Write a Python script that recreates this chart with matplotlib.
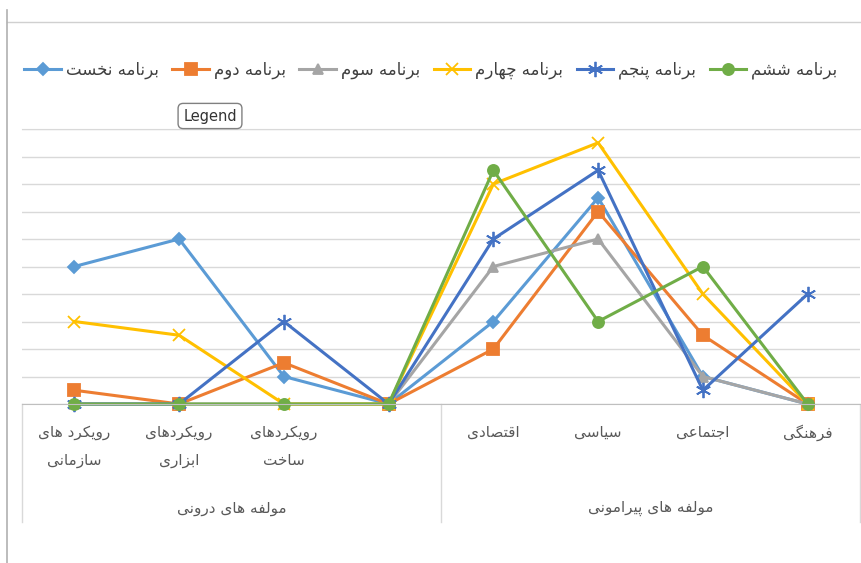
import matplotlib
matplotlib.use("Agg")
import matplotlib.pyplot as plt
from matplotlib.lines import Line2D

# Data (grid units, 0..10)
categories = ["رویکرد های\nسازمانی", "رویکردهای\nابزاری", "رویکردهای\nساخت", "",
              "اقتصادی", "سیاسی", "اجتماعی", "فرهنگی"]
groups = ["مولفه های درونی", "مولفه های پیرامونی"]
series_names = ["برنامه نخست", "برنامه دوم", "برنامه سوم",
                "برنامه چهارم", "برنامه پنجم", "برنامه ششم"]
s1 = [5, 6, 1, 0, 3, 7.5, 1, 0]
s2 = [0.5, 0, 1.5, 0, 2, 7, 2.5, 0]
s3 = [0, 0, 0, 0, 5, 6, 1, 0]
s4 = [3, 2.5, 0, 0, 8, 9.5, 4, 0]
s5 = [0, 0, 3, 0, 6, 8.5, 0.5, 4]
s6 = [0, 0, 0, 0, 8.5, 3, 5, 0]

# simple Persian shaping (matplotlib has no bidi / joining support)
FORMS = {
    'ا': ('\uFE8D', '\uFE8E', None, None),
    'ب': ('\uFE8F', '\uFE90', '\uFE91', '\uFE92'),
    'ت': ('\uFE95', '\uFE96', '\uFE97', '\uFE98'),
    'ج': ('\uFE9D', '\uFE9E', '\uFE9F', '\uFEA0'),
    'خ': ('\uFEA5', '\uFEA6', '\uFEA7', '\uFEA8'),
    'د': ('\uFEA9', '\uFEAA', None, None),
    'ر': ('\uFEAD', '\uFEAE', None, None),
    'ز': ('\uFEAF', '\uFEB0', None, None),
    'س': ('\uFEB1', '\uFEB2', '\uFEB3', '\uFEB4'),
    'ش': ('\uFEB5', '\uFEB6', '\uFEB7', '\uFEB8'),
    'ص': ('\uFEB9', '\uFEBA', '\uFEBB', '\uFEBC'),
    'ع': ('\uFEC9', '\uFECA', '\uFECB', '\uFECC'),
    'ف': ('\uFED1', '\uFED2', '\uFED3', '\uFED4'),
    'ق': ('\uFED5', '\uFED6', '\uFED7', '\uFED8'),
    'ل': ('\uFEDD', '\uFEDE', '\uFEDF', '\uFEE0'),
    'م': ('\uFEE1', '\uFEE2', '\uFEE3', '\uFEE4'),
    'ن': ('\uFEE5', '\uFEE6', '\uFEE7', '\uFEE8'),
    'ه': ('\uFEE9', '\uFEEA', '\uFEEB', '\uFEEC'),
    'و': ('\uFEED', '\uFEEE', None, None),
    'پ': ('\uFB56', '\uFB57', '\uFB58', '\uFB59'),
    'چ': ('\uFB7A', '\uFB7B', '\uFB7C', '\uFB7D'),
    'ک': ('\uFB8E', '\uFB8F', '\uFB90', '\uFB91'),
    'گ': ('\uFB92', '\uFB93', '\uFB94', '\uFB95'),
    'ی': ('\uFBFC', '\uFBFD', '\uFBFE', '\uFBFF'),
}


def shape_line(txt):
    out = []
    for i, ch in enumerate(txt):
        if ch not in FORMS:
            out.append(ch)
            continue
        prev = txt[i - 1] if i > 0 else ''
        nxt = txt[i + 1] if i + 1 < len(txt) else ''
        join_prev = prev in FORMS and FORMS[prev][2] is not None
        join_next = nxt in FORMS and FORMS[ch][2] is not None
        iso, fin, ini, med = FORMS[ch]
        if join_prev and join_next:
            out.append(med)
        elif join_prev:
            out.append(fin)
        elif join_next:
            out.append(ini)
        else:
            out.append(iso)
    return ''.join(out)[::-1]


def fa(txt):
    return '\n'.join(shape_line(l) for l in txt.split('\n'))


plt.rcParams['font.family'] = ['DejaVu Sans']

fig = plt.figure(figsize=(8.62, 5.63), dpi=100)
ax = fig.add_axes([22 / 862, 1 - 404 / 563, 838 / 862, 275 / 563])

x = list(range(len(categories)))
styles = [
    ("#5B9BD5", "D", 6, s1),
    ("#ED7D31", "s", 8, s2),
    ("#A5A5A5", "^", 7, s3),
    ("#FFC000", "x", 9, s4),
    ("#4472C4", (6, 2, 0), 11, s5),
    ("#70AD47", "o", 8, s6),
]
for (color, marker, ms, vals), name in zip(styles, series_names):
    ax.plot(x, vals, color=color, lw=2.2, marker=marker, markersize=ms,
            markeredgewidth=1.3, label=fa(name), clip_on=False)

ax.set_xlim(-0.5, 7.5)
ax.set_ylim(0, 10)
ax.set_yticks(range(0, 11))
ax.set_yticklabels([])
ax.set_xticks([])
ax.tick_params(left=False)
ax.grid(axis='y', color='#D9D9D9', lw=1)
ax.set_axisbelow(True)
for sp in ax.spines.values():
    sp.set_color('#D9D9D9')
ax.spines['left'].set_visible(False)
ax.spines['right'].set_visible(False)
ax.spines['bottom'].set_color('#BFBFBF')

# category labels (two levels)
for xi, lab in zip(x, categories):
    if lab:
        ax.text(xi, -0.75, fa(lab), ha='center', va='top', fontsize=11,
                color='#595959', linespacing=2.1)
ax.text(1.5, -3.8, fa(groups[0]), ha='center', va='center', fontsize=11,
        color='#595959')
ax.text(5.5, -3.8, fa(groups[1]), ha='center', va='center', fontsize=11,
        color='#595959')
for xs in [-0.5, 3.5, 7.5]:
    ax.plot([xs, xs], [0, -4.3], color='#D9D9D9', lw=1, clip_on=False)

# legend
leg = ax.legend(ncol=6, loc='center', bbox_to_anchor=(0.5, (563 - 70) / 563),
                bbox_transform=fig.transFigure, frameon=False, fontsize=12,
                handlelength=2.2, handletextpad=0.3, columnspacing=0.8)
for t in leg.get_texts():
    t.set_color('#404040')

# tooltip box
fig.text(210 / 862, 1 - 116 / 563, "Legend", ha='center', va='center',
         fontsize=10.5, color='#333333',
         bbox=dict(boxstyle='round,pad=0.35', fc='white', ec='#808080', lw=1))

# outer frame lines
fig.add_artist(Line2D([7 / 862, 1], [1 - 22 / 563] * 2, color='#D0D0D0', lw=1))
fig.add_artist(Line2D([7 / 862] * 2, [0, 1 - 10 / 563], color='#B0B0B0', lw=1.2))

fig.savefig("out.png", dpi=100)
